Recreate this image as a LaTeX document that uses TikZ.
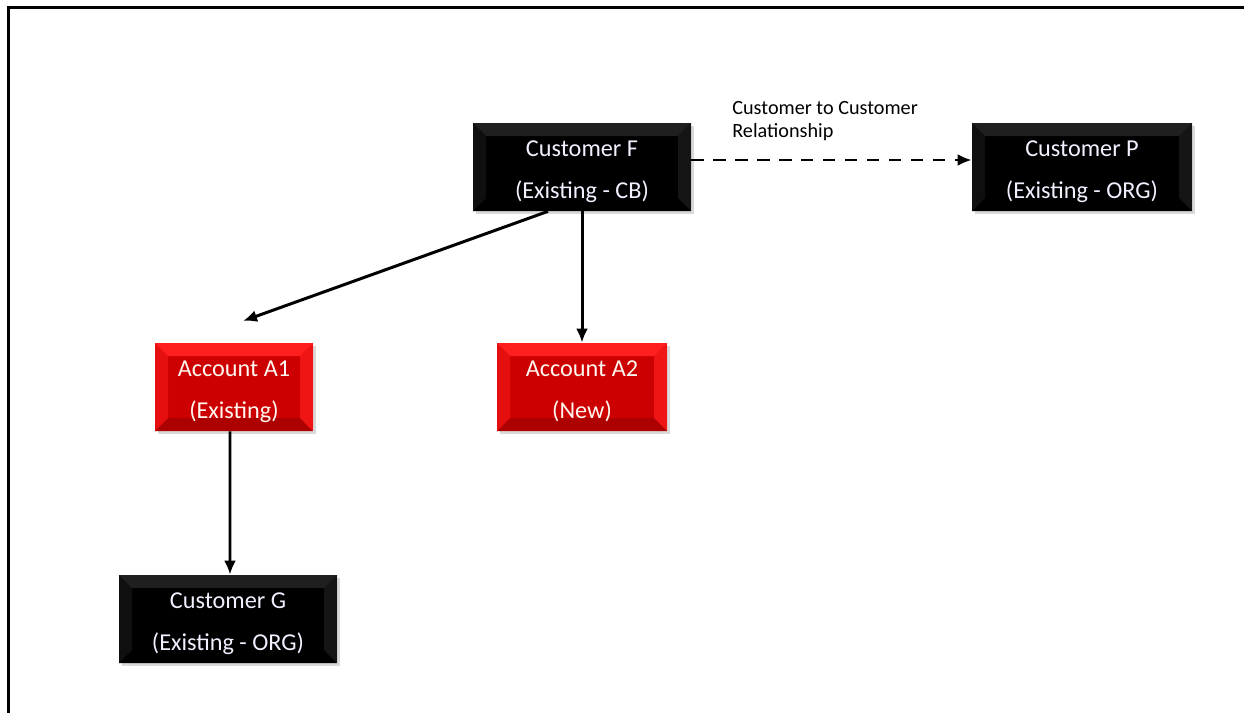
\documentclass[tikz,border=0pt]{standalone}
\usepackage{fontspec}
\setmainfont{Carlito}
\usetikzlibrary{arrows.meta,shadows}
\newcommand{\toplift}{\rule{0pt}{14pt}}

\begin{document}
\begin{tikzpicture}[
    >={Latex[length=2.8mm,width=2.4mm]},
    bevel/.style 2 args={path picture={
        \fill[#1] (path picture bounding box.north west) -- (path picture bounding box.north east)
            -- ([shift={(-0.26,-0.26)}]path picture bounding box.north east) -- ([shift={(0.26,-0.26)}]path picture bounding box.north west) -- cycle;
        \fill[#2] (path picture bounding box.south west) -- (path picture bounding box.south east)
            -- ([shift={(-0.26,0.26)}]path picture bounding box.south east) -- ([shift={(0.26,0.26)}]path picture bounding box.south west) -- cycle;
        \fill[#1, opacity=0.5] (path picture bounding box.north west) -- ([shift={(0.26,-0.26)}]path picture bounding box.north west)
            -- ([shift={(0.26,0.26)}]path picture bounding box.south west) -- (path picture bounding box.south west) -- cycle;
        \fill[#1, opacity=0.7] (path picture bounding box.north east) -- ([shift={(-0.26,-0.26)}]path picture bounding box.north east)
            -- ([shift={(-0.26,0.26)}]path picture bounding box.south east) -- (path picture bounding box.south east) -- cycle;
    }},
    customer/.style={rectangle, fill=black, bevel={black!88!white}{black}, text=blue!6!white,
        minimum height=1.76cm, inner sep=0pt, align=center, font=\fontsize{13.8}{24}\selectfont,
        drop shadow={opacity=0.3, shadow xshift=0.05cm, shadow yshift=-0.06cm}},
    account/.style={customer, fill=red!80!black, bevel={red!88!white}{red!68!black}, text=orange!6!white},
    link/.style={->, line width=1.7pt}
]
\useasboundingbox (0,0) rectangle (24.88,-14.26);

% Frame
\draw[line width=1.9pt] (0.17,-14.26) -- (0.17,-0.15) -- (24.88,-0.15);

% Customers
\node[customer, minimum width=4.36cm] (custF) at (11.64,-3.34) {\toplift Customer F\\(Existing - CB)};
\node[customer, minimum width=4.4cm] (custP) at (21.64,-3.34) {\toplift Customer P\\(Existing - ORG)};
\node[customer, minimum width=4.36cm] (custG) at (4.56,-12.38) {\toplift Customer G\\(Existing - ORG)};

% Accounts
\node[account, minimum width=3.16cm] (acctA) at (4.68,-7.74) {\toplift Account A1\\(Existing)};
\node[account, minimum width=3.4cm] (acctB) at (11.64,-7.74) {\toplift Account A2\\(New)};

% Relationship label
\node[anchor=west, align=left, inner sep=0pt, font=\fontsize{11.5}{13}\selectfont] (rel) at (14.64,-2.42)
    {Customer to Customer\\Relationship};

% Arrows
\coordinate (aim) at (4.86,-6.42);
\draw[link] ([xshift=-0.68cm]custF.south) -- (aim);
\draw[link] (custF.south) -- (acctB.north);
\draw[link] ([xshift=-0.08cm]acctA.south) -- ([xshift=0.04cm]custG.north);
\draw[link, dash pattern=on 7pt off 5.5pt] ([yshift=0.14cm]custF.east) -- ([yshift=0.14cm]custP.west);

\end{tikzpicture}
\end{document}
